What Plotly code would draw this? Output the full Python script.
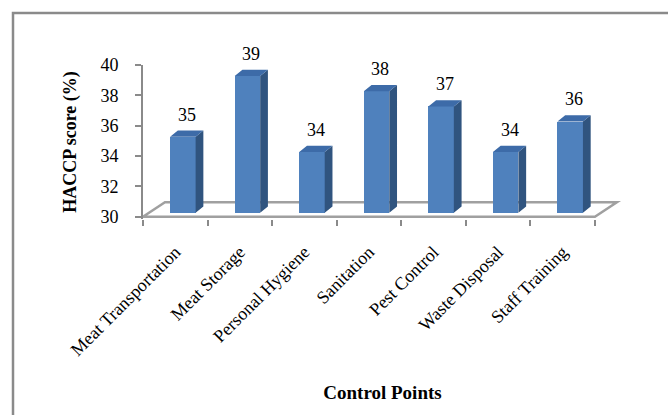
import plotly.graph_objects as go

# HACCP scores by control point
categories = ["Meat Transportation", "Meat Storage", "Personal Hygiene",
              "Sanitation", "Pest Control", "Waste Disposal", "Staff Training"]
scores = [35, 39, 34, 38, 37, 34, 36]
y_ticks = [30, 32, 34, 36, 38, 40]

FONT = "Liberation Serif"
GRAY = "#8A8A8A"
FRONT = "#4F81BD"
TOP = "#3D6BA8"
SIDE = "#30547F"

# oblique projection parameters (axis units)
Y0 = 30.0
Z_FRONT = 0.27      # lift of bar front face above the floor front edge
BAR_L, BAR_W = -0.08, 0.395
DX_BAR, DY_BAR = 0.12, 0.41
DX_FLOOR, DY_FLOOR = 0.34, 0.95

n = len(categories)
idx = list(range(n))

fig = go.Figure()

# front faces
fig.add_trace(go.Bar(x=[i + BAR_L + BAR_W / 2 for i in idx],
                     y=[v - Y0 for v in scores],
                     base=[Y0 + Z_FRONT] * n,
                     width=BAR_W, marker=dict(color=FRONT, line=dict(width=0)),
                     showlegend=False, hoverinfo="skip"))

# side and top faces
sx, sy, tx, ty = [], [], [], []
for i, v in zip(idx, scores):
    xl = i + BAR_L
    xr = xl + BAR_W
    b = Y0 + Z_FRONT
    t = v + Z_FRONT
    sx += [xr, xr + DX_BAR, xr + DX_BAR, xr, xr, None]
    sy += [b, b + DY_BAR, t + DY_BAR, t, b, None]
    tx += [xl, xr, xr + DX_BAR, xl + DX_BAR, xl, None]
    ty += [t, t, t + DY_BAR, t + DY_BAR, t, None]
fig.add_trace(go.Scatter(x=sx, y=sy, mode="lines", fill="toself", fillcolor=SIDE,
                         line=dict(width=0, color=SIDE), hoverinfo="skip",
                         showlegend=False))
fig.add_trace(go.Scatter(x=tx, y=ty, mode="lines", fill="toself", fillcolor=TOP,
                         line=dict(width=0, color=TOP), hoverinfo="skip",
                         showlegend=False))

# value labels above each bar
for i, v in zip(idx, scores):
    fig.add_annotation(x=i + BAR_L + (BAR_W + DX_BAR) / 2,
                       y=v + Z_FRONT + DY_BAR, xref="x", yref="y",
                       text=str(v), showarrow=False, yanchor="bottom",
                       yshift=4, font=dict(family=FONT, size=18, color="black"))

# floor, drawn beneath the bars
fx = [-0.5, n - 0.5, n - 0.5 + DX_FLOOR, -0.5 + DX_FLOOR]
fy = [Y0, Y0, Y0 + DY_FLOOR, Y0 + DY_FLOOR]
floor_path = "M " + " L ".join(f"{a},{b}" for a, b in zip(fx, fy)) + " Z"
fig.add_shape(type="path", path=floor_path, xref="x", yref="y",
              line=dict(color="#A0A0A0", width=2.5), fillcolor="white",
              layer="below")

L, R, T, B = 143, 46, 65, 196
W, H = 668, 415
pw = W - L - R
ph = H - T - B

fig.update_layout(
    width=W, height=H,
    margin=dict(l=L, r=R, t=T, b=B, pad=0),
    paper_bgcolor="white", plot_bgcolor="white",
    font=dict(family=FONT, size=18, color="black"),
    bargap=0,
    xaxis=dict(range=[-0.5, n - 0.5 + 0.42], tickmode="array", tickvals=idx,
               ticktext=categories, tickangle=-45, ticks="", showline=False,
               showgrid=False, zeroline=False, ticklabelstandoff=18,
               tickfont=dict(family=FONT, size=18),
               minor=dict(tickmode="array", tickvals=[i - 0.5 for i in range(n + 1)],
                          ticks="outside", ticklen=6, tickwidth=2, tickcolor=GRAY,
                          showgrid=False),
               title=dict(text="<b>Control Points</b>", standoff=26,
                          font=dict(family=FONT, size=19))),
    yaxis=dict(range=[29.85, 40], tickmode="array", tickvals=y_ticks,
               ticks="outside", ticklen=6, tickwidth=2, tickcolor=GRAY,
               showline=True, linecolor=GRAY, linewidth=2, showgrid=False,
               zeroline=False, ticklabelstandoff=13,
               tickfont=dict(family=FONT, size=18),
               title=dict(text="<b>HACCP score (%)</b>", standoff=19,
                          font=dict(family=FONT, size=18))),
)

# chart frame
fig.add_shape(type="rect", xref="paper", yref="paper",
              x0=(13 - L) / pw, x1=(W + 40 - L) / pw,
              y0=(H - 470 - B) / ph, y1=(H - 13 - B) / ph,
              line=dict(color=GRAY, width=2.5), fillcolor="rgba(0,0,0,0)",
              layer="below")

fig.write_html("out.html")
